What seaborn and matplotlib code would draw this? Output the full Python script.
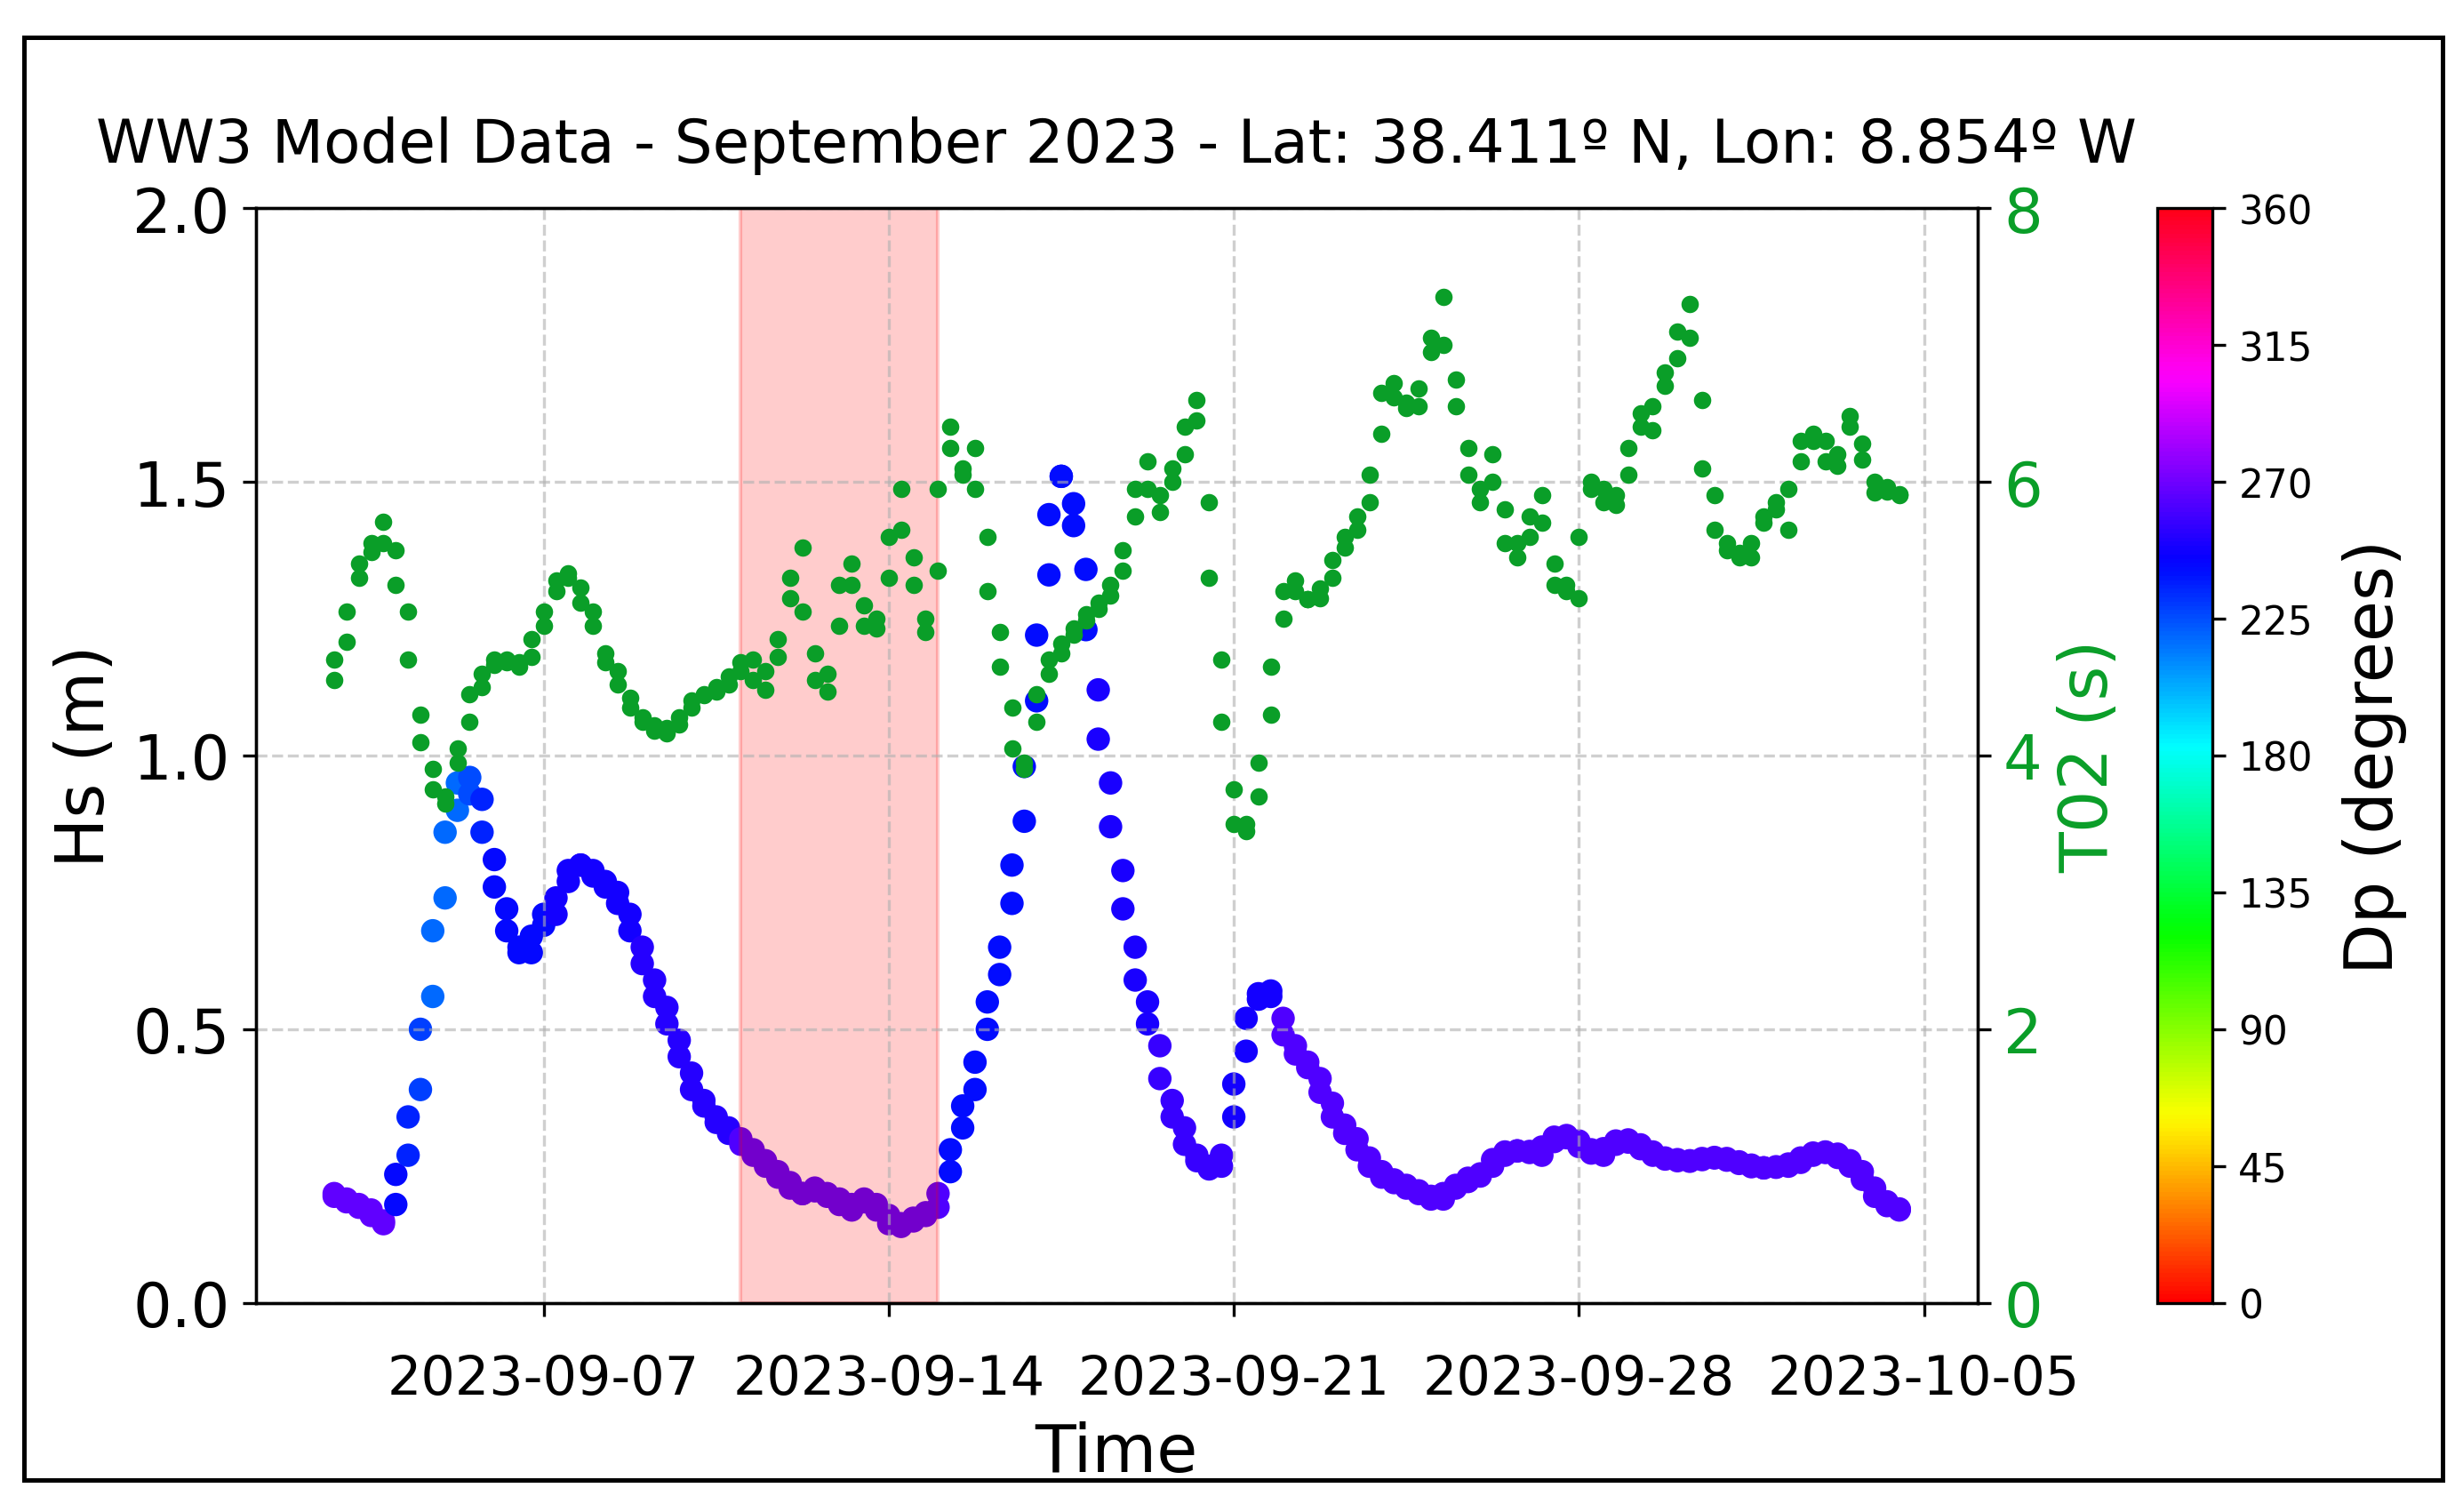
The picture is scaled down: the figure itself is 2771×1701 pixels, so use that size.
import numpy as np
import pandas as pd
import matplotlib
matplotlib.use("Agg")
import matplotlib.pyplot as plt
import matplotlib.dates as mdates
from matplotlib.patches import Rectangle
import seaborn as sns

# WW3 output, 6-hourly time columns, two samples per column (Hs, T02), Dp per column
first_time = "2023-09-02 18:00"
n_columns = 128
samples_per_column = 2

hs = [
    0.20, 0.195,                                        # 09-02
    0.19, 0.185, 0.18, 0.175, 0.17, 0.16, 0.15, 0.145,  # 09-03
    0.18, 0.235, 0.27, 0.34, 0.39, 0.50, 0.56, 0.68,    # 09-04
    0.74, 0.86, 0.90, 0.95, 0.96, 0.93, 0.92, 0.86,     # 09-05
    0.81, 0.76, 0.72, 0.68, 0.65, 0.64, 0.64, 0.67,     # 09-06
    0.69, 0.71, 0.71, 0.74, 0.77, 0.79, 0.80, 0.80,     # 09-07
    0.79, 0.78, 0.77, 0.76, 0.75, 0.73, 0.71, 0.68,     # 09-08
    0.65, 0.62, 0.59, 0.56, 0.54, 0.51, 0.48, 0.45,     # 09-09
    0.42, 0.39, 0.37, 0.36, 0.34, 0.33, 0.32, 0.31,     # 09-10
    0.30, 0.29, 0.28, 0.27, 0.26, 0.25, 0.24, 0.23,     # 09-11
    0.22, 0.21, 0.20, 0.20, 0.21, 0.205, 0.20, 0.195,   # 09-12
    0.19, 0.18, 0.17, 0.18, 0.185, 0.19, 0.18, 0.17,    # 09-13
    0.16, 0.145, 0.14, 0.145, 0.15, 0.155, 0.16, 0.165, # 09-14
    0.175, 0.20, 0.24, 0.28, 0.32, 0.36, 0.39, 0.44,    # 09-15
    0.50, 0.55, 0.60, 0.65, 0.73, 0.80, 0.88, 0.98,     # 09-16
    1.10, 1.22, 1.33, 1.44, 1.51, 1.51, 1.46, 1.42,     # 09-17
    1.34, 1.23, 1.12, 1.03, 0.95, 0.87, 0.79, 0.72,     # 09-18
    0.65, 0.59, 0.55, 0.51, 0.47, 0.41, 0.37, 0.34,     # 09-19
    0.32, 0.29, 0.27, 0.26, 0.25, 0.245, 0.25, 0.27,    # 09-20
    0.34, 0.40, 0.46, 0.52, 0.555, 0.565, 0.57, 0.56,   # 09-21
    0.52, 0.49, 0.47, 0.455, 0.44, 0.43, 0.41, 0.385,   # 09-22
    0.365, 0.34, 0.325, 0.31, 0.30, 0.28, 0.265, 0.25,  # 09-23
    0.24, 0.23, 0.225, 0.22, 0.215, 0.21, 0.205, 0.20,  # 09-24
    0.195, 0.19, 0.19, 0.20, 0.21, 0.215, 0.222, 0.228, # 09-25
    0.232, 0.236, 0.25, 0.262, 0.27, 0.276, 0.278, 0.278,  # 09-26
    0.277, 0.275, 0.27, 0.285, 0.295, 0.303, 0.306, 0.302,  # 09-27
    0.296, 0.286, 0.28, 0.274, 0.27, 0.282, 0.29, 0.296,    # 09-28
    0.298, 0.294, 0.289, 0.282, 0.276, 0.27, 0.265, 0.263,  # 09-29
    0.262, 0.26, 0.259, 0.26, 0.262, 0.264, 0.265, 0.266,   # 09-30
    0.264, 0.261, 0.258, 0.255, 0.252, 0.249, 0.247, 0.247, # 10-01
    0.248, 0.249, 0.25, 0.254, 0.257, 0.265, 0.27, 0.274,   # 10-02
    0.276, 0.275, 0.272, 0.266, 0.26, 0.25, 0.24, 0.226,    # 10-03
    0.21, 0.195, 0.185, 0.178, 0.172, 0.17,                 # 10-04
]

t02 = [
    4.55, 4.70,
    4.83, 5.05, 5.30, 5.40, 5.49, 5.55, 5.71, 5.55,
    5.50, 5.25, 5.05, 4.70, 4.30, 4.10, 3.90, 3.75,
    3.65, 3.70, 3.95, 4.05, 4.25, 4.45, 4.50, 4.60,
    4.66, 4.70, 4.70, 4.68, 4.65, 4.68, 4.72, 4.85,
    4.95, 5.05, 5.20, 5.28, 5.33, 5.30, 5.23, 5.12,
    5.05, 4.95, 4.75, 4.68, 4.62, 4.52, 4.42, 4.35,
    4.28, 4.25, 4.22, 4.18, 4.16, 4.20, 4.23, 4.28,
    4.35, 4.40, 4.44, 4.45, 4.47, 4.50, 4.52, 4.58,
    4.62, 4.68, 4.70, 4.55, 4.48, 4.62, 4.72, 4.85,
    5.15, 5.30, 5.52, 5.05, 4.75, 4.55, 4.47, 4.60,
    4.95, 5.25, 5.40, 5.25, 5.10, 4.95, 4.93, 5.00,
    5.30, 5.60, 5.95, 5.65, 5.45, 5.25, 5.00, 4.90,
    5.35, 5.95, 6.40, 6.25, 6.05, 6.10, 6.25, 5.95,
    5.60, 5.20, 4.90, 4.65, 4.35, 4.05, 3.90, 3.95,
    4.25, 4.45, 4.60, 4.70, 4.75, 4.82, 4.88, 4.93,
    4.99, 5.03, 5.07, 5.12, 5.17, 5.25, 5.35, 5.50,
    5.75, 5.95, 6.15, 5.95, 5.78, 5.90, 6.00, 6.10,
    6.20, 6.40, 6.60, 6.45, 5.85, 5.30, 4.70, 4.25,
    3.75, 3.50, 3.45, 3.50, 3.70, 3.95, 4.30, 4.65,
    5.00, 5.20, 5.28, 5.20, 5.14, 5.14, 5.15, 5.22,
    5.30, 5.43, 5.52, 5.60, 5.65, 5.75, 5.85, 6.05,
    6.35, 6.65, 6.72, 6.62, 6.58, 6.54, 6.55, 6.68,
    6.95, 7.05, 7.35, 7.00, 6.75, 6.55, 6.25, 6.05,
    5.85, 5.95, 6.20, 6.00, 5.80, 5.55, 5.45, 5.55,
    5.60, 5.75, 5.90, 5.70, 5.40, 5.25, 5.20, 5.25,
    5.15, 5.60, 5.95, 6.00, 5.95, 5.85, 5.83, 5.90,
    6.05, 6.25, 6.50, 6.40, 6.38, 6.55, 6.70, 6.80,
    6.90, 7.10, 7.30, 7.05, 6.60, 6.10, 5.90, 5.65,
    5.55, 5.50, 5.48, 5.45, 5.45, 5.55, 5.70, 5.75,
    5.80, 5.85, 5.65, 5.95, 6.15, 6.30, 6.30, 6.35,
    6.30, 6.15, 6.12, 6.20, 6.40, 6.48, 6.28, 6.16,
    6.00, 5.92, 5.96, 5.93, 5.91, 5.90,
]

dp = [
    266,
    266, 266, 266, 266,
    243, 236, 228, 218,
    218, 218, 226, 236,
    243, 243, 243, 243,
    243, 248, 248, 248,
    248, 248, 248, 248,
    252, 252, 252, 252,
    252, 252, 252, 252,
    262, 262, 262, 262,
    262, 262, 262, 262,
    262, 262, 262, 262,
    262, 262, 262, 262,
    262, 241, 241, 241,
    241, 241, 241, 241,
    241, 241, 241, 241,
    241, 250, 250, 250,
    250, 250, 256, 256,
    256, 256, 256, 256,
    248, 248, 248, 248,
    262, 262, 262, 262,
    262, 262, 262, 262,
    262, 262, 262, 262,
    262, 262, 262, 262,
    262, 262, 262, 262,
    262, 262, 262, 262,
    262, 262, 262, 262,
    262, 262, 262, 262,
    262, 262, 262, 262,
    262, 262, 262, 262,
    262, 262, 262, 262,
    262, 262, 262, 262,
    262, 262, 262,
]

hs_ticks = [0.0, 0.5, 1.0, 1.5, 2.0]
t02_ticks = [0, 2, 4, 6, 8]
dp_ticks = [0, 45, 90, 135, 180, 225, 270, 315, 360]

event_start = "2023-09-11"
event_end = "2023-09-15"

title = "WW3 Model Data - September 2023 - Lat: 38.411º N, Lon: 8.854º W"
green = "#0a9e28"

columns = pd.date_range(first_time, periods=n_columns, freq="6h")
df = pd.DataFrame({
    "time": np.repeat(columns, samples_per_column),
    "hs": hs,
    "t02": t02,
    "dp": np.repeat(dp, samples_per_column),
})

fig = plt.figure(figsize=(2771 / 300, 1702 / 300), dpi=300)
ax = fig.add_axes([0.1039, 0.1381, 0.6990, 0.7238])
cax = fig.add_axes([0.8759, 0.1381, 0.0224, 0.7238])

sns.scatterplot(data=df, x="time", y="hs", hue="dp", palette="hsv",
                hue_norm=(0, 360), s=40, linewidth=0, legend=False, ax=ax)
# shaded period drawn over the Hs points
ax.axvspan(pd.Timestamp(event_start), pd.Timestamp(event_end), color="red", alpha=0.2)

ax2 = ax.twinx()
sns.scatterplot(data=df, x="time", y="t02", color=green, s=22, linewidth=0, ax=ax2)

ax.set_ylim(0, 2)
ax2.set_ylim(0, 8)
ax.set_yticks(hs_ticks)
ax2.set_yticks(t02_ticks)
ax.xaxis.set_major_locator(mdates.WeekdayLocator(byweekday=mdates.TH))
ax.xaxis.set_major_formatter(mdates.DateFormatter("%Y-%m-%d"))
ax.grid(True, linestyle="--", alpha=0.6)

ax.set_title(title, fontsize=16.2, pad=12.5)
ax.set_xlabel("Time", fontsize=18)
ax.set_ylabel("Hs (m)", fontsize=18)
ax2.set_ylabel("T02 (s)", fontsize=18, color=green)
ax.tick_params(axis="y", labelsize=16.5)
ax.tick_params(axis="x", labelsize=14.5, pad=10)
ax2.tick_params(axis="y", labelsize=16.5, labelcolor=green)

sm = plt.cm.ScalarMappable(norm=plt.Normalize(0, 360), cmap="hsv")
cbar = fig.colorbar(sm, cax=cax, ticks=dp_ticks)
cbar.set_label("Dp (degrees)", fontsize=18, labelpad=8)
cbar.ax.tick_params(labelsize=10.5)

fig.add_artist(Rectangle((0.0096, 0.021), 0.982, 0.954, transform=fig.transFigure,
                         fill=False, lw=1.2, ec="black"))

fig.savefig("out.png", dpi=300)
